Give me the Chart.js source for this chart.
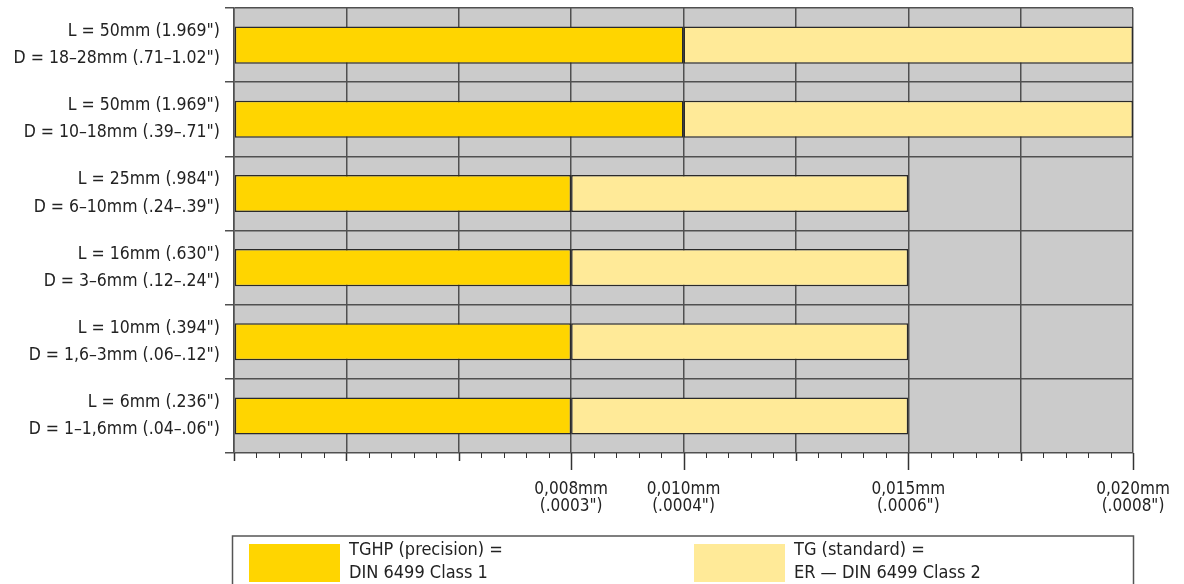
<!DOCTYPE html>
<html><head><meta charset="utf-8">
<script src="https://cdn.jsdelivr.net/npm/chart.js@4/dist/chart.umd.min.js"></script>
<style>html,body{margin:0;padding:0;background:#fff}#wrap{width:1184px;height:584px;position:relative}</style>
</head><body><div id="wrap"><canvas id="c" width="1184" height="584"></canvas></div>
<script>
const categories = [
  ['L = 50mm (1.969")', 'D = 18–28mm (.71–1.02")'],
  ['L = 50mm (1.969")', 'D = 10–18mm (.39–.71")'],
  ['L = 25mm (.984")', 'D = 6–10mm (.24–.39")'],
  ['L = 16mm (.630")', 'D = 3–6mm (.12–.24")'],
  ['L = 10mm (.394")', 'D = 1,6–3mm (.06–.12")'],
  ['L = 6mm (.236")', 'D = 1–1,6mm (.04–.06")']
];
// bar ends as drawn on the axis (the "0,008mm" tick sits at the 0.0075 grid position)
const precisionEnd = [0.010, 0.010, 0.0075, 0.0075, 0.0075, 0.0075];
const standardEnd  = [0.020, 0.020, 0.015, 0.015, 0.015, 0.015];
const seriesLabels = [['TGHP (precision) =', 'DIN 6499 Class 1'], ['TG (standard) =', 'ER — DIN 6499 Class 2']];
const seriesColors = ['#FFD500', '#FFEA98'];
const tickValues = [0.0075, 0.010, 0.015, 0.020];
const tickLabels = [['0,008mm', '(.0003")'], ['0,010mm', '(.0004")'], ['0,015mm', '(.0006")'], ['0,020mm', '(.0008")']];
const axisMax = 0.020, minorStep = 0.0005, majorStep = 0.0025;

const FONT = "'Liberation Sans Narrow','DejaVu Sans Condensed','Roboto Condensed',sans-serif";
const near = (a, b) => Math.abs(a - b) < 1e-9;
const isMajor = v => near(Math.round(v / majorStep) * majorStep, v);
const labelIndex = v => tickValues.findIndex(t => near(t, v));

const bgPlugin = {
  id: 'bg',
  beforeDraw(chart) {
    const {ctx, chartArea: a} = chart;
    ctx.save(); ctx.fillStyle = '#cbcbcb';
    ctx.fillRect(a.left, a.top, a.right - a.left, a.bottom - a.top);
    ctx.restore();
  }
};
const ticksPlugin = {
  id: 'xticks',
  afterDraw(chart) {
    const {ctx, chartArea: a} = chart, xs = chart.scales.x;
    ctx.save(); ctx.strokeStyle = '#333';
    const n = Math.round(axisMax / minorStep);
    for (let i = 0; i <= n; i++) {
      const v = i * minorStep, x = Math.round(xs.getPixelForValue(v)) + 0.5;
      const lab = labelIndex(v) >= 0, maj = isMajor(v);
      const len = lab ? 17 : maj ? 8 : 5;
      ctx.lineWidth = (lab || maj) ? 1.5 : 1;
      ctx.beginPath(); ctx.moveTo(x, a.bottom); ctx.lineTo(x, a.bottom + len); ctx.stroke();
    }
    ctx.restore();
  }
};
const legendPlugin = {
  id: 'boxLegend',
  afterDraw(chart) {
    const {ctx, chartArea: a} = chart;
    ctx.save();
    ctx.strokeStyle = '#555'; ctx.lineWidth = 1.5;
    ctx.strokeRect(a.left - 1.5, 536, a.right - a.left + 2, 60);
    chart.data.datasets.forEach((ds, i) => {
      const x0 = a.left + 15 + i * 445;
      ctx.fillStyle = ds.backgroundColor;
      ctx.fillRect(x0, 544, 91, 38);
      ctx.fillStyle = '#222'; ctx.font = '18px ' + FONT; ctx.textBaseline = 'middle';
      ds.label.forEach((t, j) => ctx.fillText(t, x0 + 100, 550 + j * 23));
    });
    ctx.restore();
  }
};

new Chart(document.getElementById('c'), {
  type: 'bar',
  data: {
    labels: categories,
    datasets: seriesLabels.map((lab, k) => ({
      label: lab,
      data: categories.map((_, i) => k === 0 ? [0, precisionEnd[i]] : [precisionEnd[i], standardEnd[i]]),
      backgroundColor: seriesColors[k],
      borderColor: '#2a2a2a',
      borderWidth: 1.5,
      borderSkipped: false,
      grouped: false,
      barPercentage: 1,
      categoryPercentage: 0.5
    }))
  },
  options: {
    indexAxis: 'y',
    responsive: false,
    animation: false,
    layout: {padding: {top: 8, right: 51, bottom: 60, left: 0}},
    plugins: {legend: {display: false}, tooltip: {enabled: false}},
    scales: {
      x: {
        type: 'linear', min: 0, max: axisMax,
        afterBuildTicks(s) {
          const n = Math.round(axisMax / minorStep);
          s.ticks = Array.from({length: n + 1}, (_, i) => ({value: i * minorStep}));
        },
        afterFit(s) { s.height = 71; s.paddingLeft = 0; s.paddingRight = 0; },
        grid: {
          drawTicks: false,
          color: c => (c.tick && isMajor(c.tick.value)) ? '#505050' : 'rgba(0,0,0,0)',
          lineWidth: 1.5
        },
        border: {display: false},
        ticks: {
          autoSkip: false, maxRotation: 0, minRotation: 0, padding: 29,
          color: '#222', font: {family: FONT, size: 17, lineHeight: 0.95},
          callback: v => { const k = labelIndex(v); return k >= 0 ? tickLabels[k] : ''; }
        }
      },
      y: {
        type: 'category',
        afterFit(s) { s.width = 234; s.paddingTop = 0; s.paddingBottom = 0; },
        grid: {offset: true, color: '#505050', lineWidth: 1.5, tickLength: 9, drawTicks: true},
        border: {display: true, color: '#505050', width: 1.5},
        ticks: {color: '#222', padding: 5, font: {family: FONT, size: 17.5, lineHeight: 1.55}}
      }
    }
  },
  plugins: [bgPlugin, ticksPlugin, legendPlugin]
});
</script></body></html>
